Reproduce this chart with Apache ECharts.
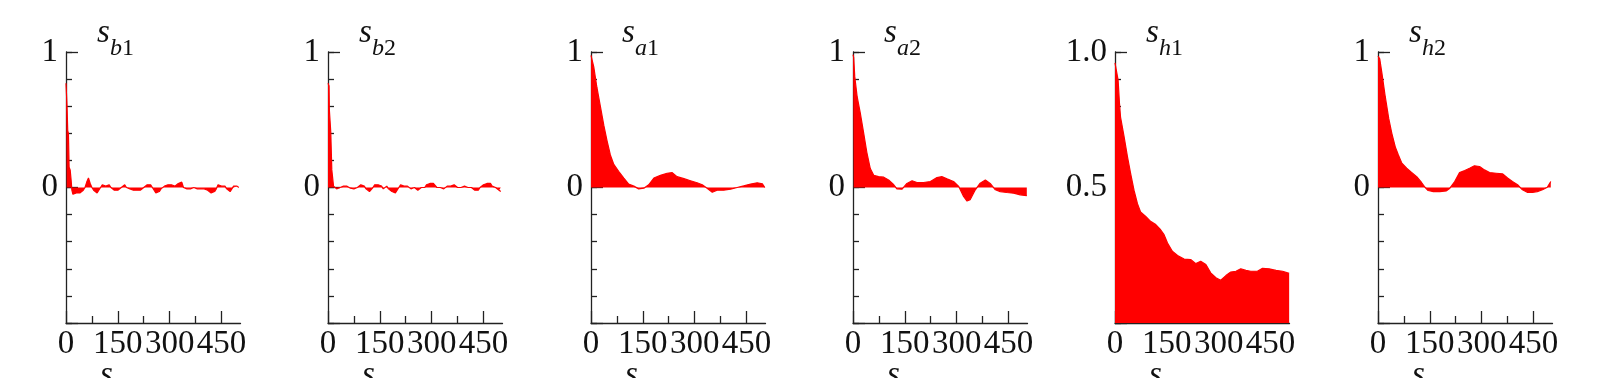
<!DOCTYPE html>
<html><head><meta charset="utf-8">
<script src="https://cdn.jsdelivr.net/npm/echarts@6/dist/echarts.min.js"></script>
<style>html,body{margin:0;padding:0;background:#fff}#c{width:1604px;height:378px}</style>
</head><body><div id="c"></div><script>
// ---- data ----
const titleMain = 's';
const titleSubs = [['b','1'],['b','2'],['a','1'],['a','2'],['h','1'],['h','2']];
const xMajorTicks = [0,150,300,450];
const xMinorTicks = [75,225,375];

const lagsB1 = [0,2,3,5,7,9,12,15,17,20,25,30,35,40,45,50,55,60,65,70,75,80,85,90,95,100,105,110,115,120,125,130,135,140,145,150,155,160,165,170,175,180,185,190,195,200,205,210,215,220,225,230,235,240,245,250,255,260,265,270,275,280,285,290,295,300,305,310,315,320,325,330,335,340,345,350,355,360,365,370,375,380,385,390,395,400,405,410,415,420,425,430,435,440,445,450,455,460,465,470,475,480,485,490,495,500];
const valsB1 = [0.77,0.77,0.60,0.42,0.40,0.15,0.13,0.05,-0.02,-0.05,-0.06,-0.04,-0.03,-0.04,-0.03,-0.02,0.0,0.04,0.07,0.03,0.0,-0.02,-0.03,-0.04,-0.02,0.0,0.02,0.02,0.01,0.02,0.02,0.0,-0.01,-0.02,-0.01,-0.02,-0.01,0.0,0.01,0.02,0.0,-0.01,-0.01,-0.02,-0.02,-0.03,-0.02,-0.03,-0.02,-0.01,0.0,0.01,0.02,0.03,0.02,0.0,-0.02,-0.04,-0.05,-0.03,-0.01,0.0,0.01,0.02,0.02,0.03,0.02,0.02,0.01,0.02,0.03,0.04,0.04,0.0,-0.01,-0.01,0.0,-0.01,-0.01,0.0,-0.01,-0.01,-0.02,-0.01,0.0,-0.01,-0.01,-0.02,-0.03,-0.04,-0.05,-0.03,-0.01,0.02,0.02,0.01,0.02,0.01,-0.01,-0.02,-0.03,-0.01,0.01,0.02,0.01,0.0];

const lagsB2 = [0,3,4,7,8,10,11,14,16,20,25,30,35,40,45,50,55,60,65,70,75,80,85,90,95,100,105,110,115,120,125,130,135,140,145,150,155,160,165,170,175,180,185,190,195,200,205,210,215,220,225,230,235,240,245,250,255,260,265,270,275,280,285,290,295,300,305,310,315,320,325,330,335,340,345,350,355,360,365,370,375,380,385,390,395,400,405,410,415,420,425,430,435,440,445,450,455,460,465,470,475,480,485,490,495,500];
const valsB2 = [0.77,0.75,0.57,0.56,0.41,0.40,0.13,0.12,0.01,0.0,-0.01,0.0,0.0,0.01,0.01,0.015,0.01,0.0,-0.005,0.0,-0.01,0.0,0.0,0.01,0.02,0.02,0.01,-0.01,-0.02,-0.03,-0.02,0.0,0.02,0.03,0.02,0.03,0.01,-0.01,0.0,0.01,-0.01,-0.02,-0.03,-0.02,-0.04,-0.03,0.0,0.02,0.02,0.01,0.0,0.01,0.0,-0.01,0.0,0.0,-0.01,-0.02,-0.01,0.0,-0.01,0.0,0.02,0.03,0.03,0.02,0.03,0.02,0.0,-0.01,0.0,0.01,-0.01,0.0,0.01,0.0,0.01,0.02,0.02,0.01,0.0,0.01,0.0,0.01,0.01,0.01,0.0,0.01,0.0,-0.01,-0.02,-0.01,-0.02,0.0,0.01,0.02,0.02,0.03,0.02,0.03,0.01,0.01,0.0,-0.01,-0.02,-0.03];

const lagsA1 = [0,8,17,27,37,46,56,66,80,95,109,124,138,153,167,182,201,220,235,249,269,288,307,322,336,351,365,384,404,423,442,462,481,496,503];
const valsA1 = [0.975,0.89,0.74,0.6,0.46,0.35,0.24,0.17,0.12,0.07,0.025,0.01,-0.01,-0.005,0.02,0.07,0.09,0.105,0.11,0.08,0.065,0.05,0.035,0.02,-0.005,-0.035,-0.02,-0.02,-0.012,0.0,0.012,0.025,0.035,0.027,0.0];

const lagsA2 = [0,2,5,12,21,31,40,50,60,74,89,103,118,127,142,156,171,185,204,224,243,257,272,291,306,320,330,339,354,368,383,397,412,426,445,465,484,503];
const valsA2 = [0.98,0.96,0.82,0.67,0.55,0.4,0.26,0.14,0.09,0.08,0.076,0.056,0.02,-0.01,-0.012,0.03,0.05,0.037,0.037,0.044,0.073,0.08,0.064,0.044,0.007,-0.066,-0.1,-0.09,-0.017,0.032,0.056,0.03,-0.017,-0.03,-0.037,-0.042,-0.054,-0.06];

const lagsH1 = [0,5,9,13,16,26,36,45,55,65,74,89,103,118,132,142,152,166,181,200,219,234,248,263,277,292,306,321,335,350,364,379,393,412,427,446,466,485,504];
const valsH1 = [0.96,0.957,0.896,0.81,0.76,0.69,0.614,0.553,0.49,0.44,0.41,0.393,0.375,0.363,0.344,0.326,0.295,0.265,0.249,0.236,0.234,0.219,0.228,0.216,0.185,0.167,0.158,0.175,0.188,0.191,0.2,0.194,0.191,0.191,0.202,0.2,0.194,0.191,0.183];

const lagsH2 = [0,5,11,21,31,40,50,59,69,83,98,112,126,136,145,160,179,198,208,222,236,251,265,279,294,308,323,342,361,375,389,404,418,433,447,461,476,490,500];
const valsH2 = [0.97,0.95,0.85,0.67,0.51,0.4,0.3,0.24,0.18,0.142,0.11,0.08,0.037,0.002,-0.022,-0.03,-0.03,-0.025,-0.005,0.044,0.11,0.125,0.142,0.16,0.155,0.13,0.11,0.105,0.1,0.07,0.044,0.02,-0.017,-0.037,-0.037,-0.03,-0.017,0.002,0.044];

const seriesLags = [lagsB1, lagsB2, lagsA1, lagsA2, lagsH1, lagsH2];
const seriesVals = [valsB1, valsB2, valsA1, valsA2, valsH1, valsH2];

// ---- layout / style ----
const FONT = '"Liberation Serif", "Times New Roman", serif';
const AXIS_COLOR = '#222';
const TEXT_COLOR = '#111';
const X_MAX = 505;
const LABEL_SIZE = 33;
const lineStyle = {color: AXIS_COLOR, width: 1.3};

const grid = [], xAxis = [], yAxis = [], series = [], graphic = [];
for (let i = 0; i < 6; i++) {
  const left = Math.round(65.7 + 262.4 * i);
  grid.push({left: left, top: 52, width: 174.5, height: 271, containLabel: false});
  const isH1 = i === 4;
  const yMin = isH1 ? 0 : -1, yMax = 1;
  xAxis.push({
    gridIndex: i, type: 'value', min: 0, max: X_MAX, position: 'bottom',
    axisLine: {show: true, onZero: false, lineStyle},
    axisTick: {show: true, inside: true, length: 12, lineStyle, customValues: xMajorTicks},
    axisLabel: {show: true, margin: 5, color: TEXT_COLOR, fontFamily: FONT, fontSize: LABEL_SIZE, customValues: xMajorTicks},
    splitLine: {show: false}
  });
  xAxis.push({
    gridIndex: i, type: 'value', min: 0, max: X_MAX, position: 'bottom',
    axisLine: {show: false, onZero: false},
    axisTick: {show: true, inside: true, length: 7, lineStyle, customValues: xMinorTicks},
    axisLabel: {show: false},
    splitLine: {show: false}
  });
  yAxis.push({
    gridIndex: i, type: 'value', min: yMin, max: yMax, interval: isH1 ? 0.5 : 1, position: 'left',
    axisLine: {show: true, onZero: false, lineStyle},
    axisTick: {show: true, inside: true, length: 12, lineStyle},
    axisLabel: {show: true, margin: 8, color: TEXT_COLOR, fontFamily: FONT, fontSize: LABEL_SIZE,
      formatter: v => {
        if (isH1) return v === 0 ? '' : v.toFixed(1);
        return v < 0 ? '' : String(Math.round(v));
      }},
    splitLine: {show: false}
  });
  yAxis.push({
    gridIndex: i, type: 'value', min: yMin, max: yMax, interval: isH1 ? 0.1 : 0.2, position: 'left',
    axisLine: {show: false, onZero: false},
    axisTick: {show: true, inside: true, length: 6, lineStyle},
    axisLabel: {show: false},
    splitLine: {show: false}
  });
  const lags = seriesLags[i], vals = seriesVals[i];
  series.push({
    type: 'line', xAxisIndex: 2 * i, yAxisIndex: 2 * i,
    data: lags.map((l, k) => [l, vals[k]]),
    showSymbol: false, symbol: 'none', smooth: false,
    lineStyle: {color: '#ff0000', width: 1.2},
    areaStyle: {color: '#ff0000', opacity: 1, origin: 0},
    silent: true, z: 1
  });
  graphic.push({type: 'text', x: left + 31, y: 17,
    style: {text: titleMain, font: 'italic 33px ' + FONT, fill: TEXT_COLOR, verticalAlign: 'top'}});
  graphic.push({type: 'text', x: left + 44, y: 37,
    style: {text: '{i|' + titleSubs[i][0] + '}{n|' + titleSubs[i][1] + '}', verticalAlign: 'top', fill: TEXT_COLOR,
      rich: {i: {fontFamily: FONT, fontStyle: 'italic', fontSize: 24, fill: TEXT_COLOR},
             n: {fontFamily: FONT, fontSize: 24, fill: TEXT_COLOR}}}});
  graphic.push({type: 'text', x: left + 34, y: 359,
    style: {text: 's', font: 'italic 33px ' + FONT, fill: TEXT_COLOR, verticalAlign: 'top'}});
}

const chart = echarts.init(document.getElementById('c'), null, {renderer: 'canvas'});
chart.setOption({animation: false, backgroundColor: '#fff', grid, xAxis, yAxis, series, graphic});
</script></body></html>
